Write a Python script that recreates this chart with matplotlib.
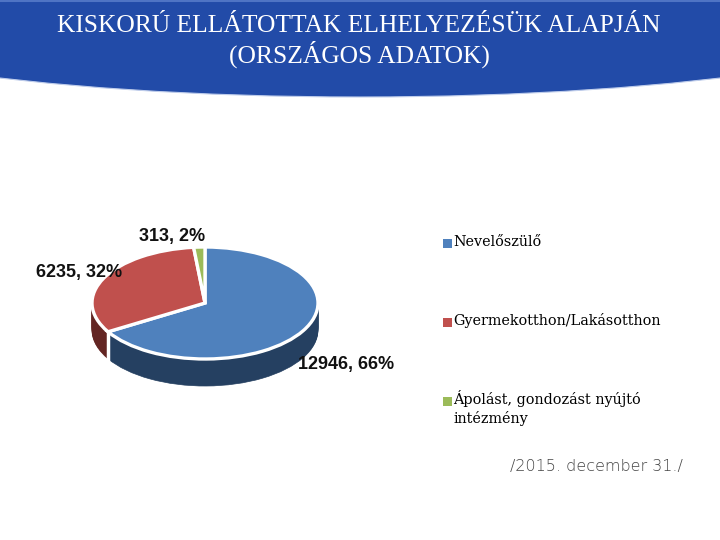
import numpy as np
import matplotlib
matplotlib.use('Agg')
import matplotlib.pyplot as plt
from matplotlib.patches import Ellipse, Rectangle

# data
categories = ['Nevelőszülő', 'Gyermekotthon/Lakásotthon', 'Ápolást, gondozást nyújtó\nintézmény']
values = [12946, 6235, 313]
percents = [66, 32, 2]
title = 'KISKORÚ ELLÁTOTTAK ELHELYEZÉSÜK ALAPJÁN\n(ORSZÁGOS ADATOK)'
note = '/2015. december 31./'

top_colors = ['#4F81BD', '#C0504D', '#9BBB59']
side_colors = ['#254061', '#632523', '#4F6228']

W, H = 720, 540
DEPTH = 27  # pie height in pixels
RX, RY = 113, 56
CX, CY = 205, 303


fig = plt.figure(figsize=(7.2, 5.4), dpi=100)

# background layer in pixel coordinates
bg = fig.add_axes([0, 0, 1, 1])
bg.set_xlim(0, W)
bg.set_ylim(H, 0)
bg.axis('off')
bg.add_patch(Ellipse((360, 0), 1211, 194, fc='#224BA8', ec='#BFCDEB', lw=0.8))
bg.plot([0, W], [0.5, 0.5], color='#4F74C4', lw=1.5)
bg.text(359, 26, title.split('\n')[0], ha='center', va='center', color='white',
        family='Liberation Serif', fontsize=18.4)
bg.text(359, 54, title.split('\n')[1], ha='center', va='center', color='white',
        family='Liberation Serif', fontsize=18.4)

# pie: the axes limits squash the circle, layers give the height
ax = fig.add_axes([0, 0, 1, 1])
ax.patch.set_alpha(0)
for d in range(DEPTH, 0, -1):
    ax.pie(values, colors=side_colors, startangle=90, counterclock=False,
           center=(0, -d / RY), wedgeprops={'lw': 0.5})
    for w, c in zip(ax.patches[-3:], side_colors):
        w.set_edgecolor(c)

# white gap between the red and blue sides
a = 2 * np.pi * values[0] / sum(values)
ax.plot([np.sin(a)] * 2, [np.cos(a) - DEPTH / RY, np.cos(a)], color='white', lw=2.5)

wedges, _ = ax.pie(values, colors=top_colors, startangle=90, counterclock=False,
                   wedgeprops={'lw': 2.4, 'edgecolor': 'white'})
ax.set_aspect('auto')
ax.set_xlim((0 - CX) / RX, (W - CX) / RX)
ax.set_ylim((CY - H) / RY, CY / RY)
ax.axis('off')

# data labels
fg = fig.add_axes([0, 0, 1, 1])
fg.patch.set_alpha(0)
fg.set_xlim(0, W)
fg.set_ylim(H, 0)
fg.axis('off')
label_pos = [(346, 365), (79, 272), (172.5, 236)]
for v, p, (x, y) in zip(values, percents, label_pos):
    fg.text(x, y, f'{v}, {p}%', ha='center', va='center', color='#111111',
            family='Liberation Sans', fontsize=13, fontweight='bold')

fg.text(596, 466, note, ha='center', va='center', color='#444444',
        family='DejaVu Sans', fontsize=11.5, fontweight='light')

# legend, the long entry hangs from its first line
legend_y = [246, 325, 404]
for name, c, y in zip(categories, top_colors, legend_y):
    fg.add_patch(Rectangle((443, y - 7), 8.5, 8.5, fc=c, ec='none'))
    fg.text(453, y, name.split('\n')[0], ha='left', va='baseline', color='black',
            family='DejaVu Serif', fontsize=10.4)
    if '\n' in name:
        fg.text(453, y + 19, name.split('\n')[1], ha='left', va='baseline', color='black',
                family='DejaVu Serif', fontsize=10.4)

fig.savefig('out.png', dpi=100)
